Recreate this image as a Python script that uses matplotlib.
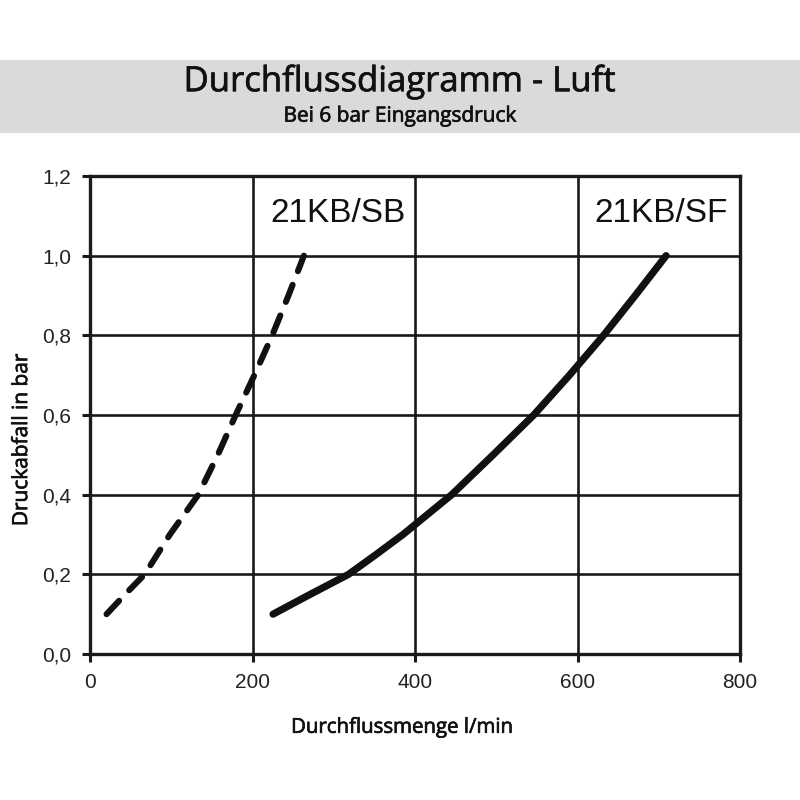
import matplotlib
matplotlib.use("Agg")
import matplotlib.pyplot as plt
import matplotlib.patheffects as pe
from matplotlib.patches import Rectangle

# --- values ---
x_ticks = [0, 200, 400, 600, 800]
y_ticks = [0.0, 0.2, 0.4, 0.6, 0.8, 1.0, 1.2]
y_tick_labels = ["0,0", "0,2", "0,4", "0,6", "0,8", "1,0", "1,2"]

sb_flow = [20, 43, 67, 98, 133, 157, 179, 202, 224, 244, 263]
sb_drop = [0.1, 0.15, 0.2, 0.3, 0.4, 0.5, 0.6, 0.7, 0.8, 0.9, 1.0]

sf_flow = [225, 271, 318, 352, 385, 445, 496, 546, 590, 632, 671, 709]
sf_drop = [0.1, 0.15, 0.2, 0.25, 0.3, 0.4, 0.5, 0.6, 0.7, 0.8, 0.9, 1.0]

label_sb = "21KB/SB"
label_sf = "21KB/SF"
title = "Durchflussdiagramm - Luft"
subtitle = "Bei 6 bar Eingangsdruck"
x_label = "Durchflussmenge l/min"
y_label = "Druckabfall in bar"

ink = "#1a1a1a"
head_font = ["Open Sans", "DejaVu Sans"]
tick_font = ["Liberation Sans", "DejaVu Sans"]
# regular Open Sans with a thin outline, close to the semibold look
semi = [pe.withStroke(linewidth=0.5, foreground="#111")]

fig = plt.figure(figsize=(8, 8), dpi=100)
fig.patch.set_facecolor("white")

# grey header band
fig.patches.append(Rectangle((0, 0.834), 1, 0.091, transform=fig.transFigure,
                             facecolor="#dadada", edgecolor="none", zorder=0))
fig.text(0.5, 0.886, title, ha="center", va="baseline", fontsize=25,
         family=head_font, color="#111", path_effects=semi)
fig.text(0.5, 0.848, subtitle, ha="center", va="baseline", fontsize=15,
         family=head_font, color="#111", path_effects=semi)

ax = fig.add_axes([0.1129, 0.1825, 0.8121, 0.5975])
ax.set_xlim(0, 800)
ax.set_ylim(0, 1.2)
ax.set_xticks(x_ticks)
ax.set_yticks(y_ticks)
ax.set_yticklabels(y_tick_labels)
for lab in ax.get_xticklabels() + ax.get_yticklabels():
    lab.set_family(tick_font)
    lab.set_fontsize(15)
    lab.set_color("#222")
ax.tick_params(direction="out", length=6, width=2.2, color=ink, pad=8)

ax.grid(True, color=ink, linewidth=1.9)
ax.set_axisbelow(True)
for s in ax.spines.values():
    s.set_linewidth(2.4)
    s.set_color(ink)

ax.plot(sb_flow, sb_drop, color="#111", linewidth=4.4, linestyle=(0, (3.0, 2.4)),
        dash_capstyle="round", solid_capstyle="round", zorder=3)
ax.plot(sf_flow, sf_drop, color="#111", linewidth=5.2, solid_capstyle="round",
        solid_joinstyle="round", zorder=3)

ax.text(305, 1.107, label_sb, ha="center", va="center", fontsize=24,
        family=tick_font, color="#111")
ax.text(703, 1.107, label_sf, ha="center", va="center", fontsize=24,
        family=tick_font, color="#111")

fig.text(0.502, 0.084, x_label, ha="center", va="baseline", fontsize=14.7,
         family=head_font, color="#111", path_effects=semi)
fig.text(0.027, 0.45, y_label, ha="center", va="center", rotation=90,
         fontsize=15, family=head_font, color="#111", path_effects=semi)

fig.savefig("out.png", dpi=100)
